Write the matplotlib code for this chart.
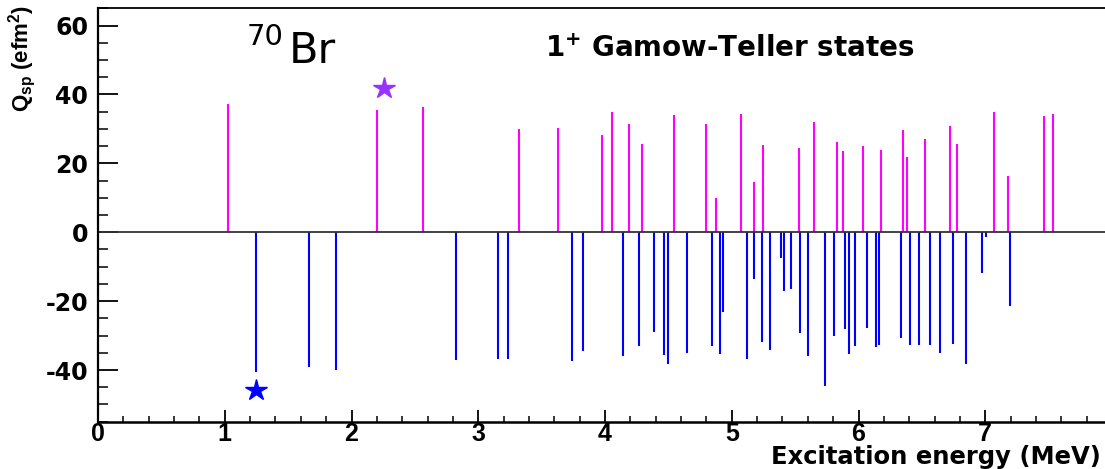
import matplotlib.pyplot as plt
from matplotlib.ticker import MultipleLocator

# positive Q_sp states (MeV, efm^2)
pos_energy = [1.028, 2.200, 2.565, 3.320, 3.631, 3.980, 4.057, 4.191, 4.291, 4.546,
              4.793, 4.878, 5.070, 5.178, 5.246, 5.527, 5.651, 5.827, 5.875, 6.038,
              6.178, 6.354, 6.385, 6.525, 6.719, 6.777, 7.066, 7.177, 7.464, 7.535]
pos_q = [37.2, 35.4, 36.4, 30.1, 30.3, 28.2, 34.8, 31.3, 25.7, 34.0,
         31.4, 9.9, 34.3, 14.6, 25.3, 24.5, 32.0, 26.2, 23.7, 25.0,
         23.9, 29.7, 21.7, 27.2, 30.7, 25.7, 34.9, 16.2, 33.7, 34.4]

# negative Q_sp states
neg_energy = [1.245, 1.663, 1.878, 2.823, 3.152, 3.236, 3.739, 3.826, 4.141, 4.265,
              4.388, 4.462, 4.496, 4.643, 4.841, 4.907, 4.930, 5.120, 5.178, 5.238,
              5.304, 5.391, 5.412, 5.470, 5.541, 5.598, 5.738, 5.806, 5.893, 5.927,
              5.975, 6.064, 6.140, 6.162, 6.338, 6.409, 6.480, 6.564, 6.643, 6.748,
              6.848, 6.977, 7.009, 7.196]
neg_q = [-40.7, -39.2, -40.1, -37.2, -36.9, -36.7, -37.3, -34.6, -36.0, -33.1,
         -29.1, -35.5, -38.3, -35.1, -32.9, -35.4, -23.2, -36.8, -13.7, -32.0,
         -34.3, -7.6, -17.1, -16.6, -29.3, -35.9, -44.6, -30.1, -28.2, -35.3,
         -32.9, -27.8, -33.2, -32.6, -30.8, -32.8, -32.6, -32.8, -35.1, -32.5,
         -38.3, -11.7, -1.3, -21.5]

# experimental points (stars)
exp_energy = [2.257, 1.245]
exp_q = [42.0, -45.9]
exp_colors = ['#9933ff', '#0000ff']

x_ticks = [0, 1, 2, 3, 4, 5, 6, 7]
y_ticks = [-40, -20, 0, 20, 40, 60]

plt.rcParams['font.family'] = ['DejaVu Sans']
plt.rcParams['axes.unicode_minus'] = False
plt.rcParams['mathtext.default'] = 'bf'

W, H = 1105, 469
fig = plt.figure(figsize=(W / 100, H / 100), dpi=100)
ax = fig.add_axes([98 / W, 47.3 / H, 1014 / W, 413.4 / H])

ax.vlines(pos_energy, 0, pos_q, color='#ff00ff', lw=1.5)
ax.vlines(neg_energy, 0, neg_q, color='#0000ff', lw=1.5)
ax.axhline(0, color='#333333', lw=1.3)
for e, q, c in zip(exp_energy, exp_q, exp_colors):
    ax.plot(e, q, marker='*', color=c, ms=16, mec=c, ls='none')

ax.set_xlim(0, 8)
ax.set_ylim(-55, 65)
ax.set_xticks(x_ticks)
ax.set_xticklabels([str(t) for t in x_ticks], fontsize=18, fontweight='bold',
                   family='Liberation Sans')
ax.set_yticks(y_ticks)
ax.set_yticklabels([str(t) for t in y_ticks], fontsize=17, fontweight='bold')
ax.xaxis.set_minor_locator(MultipleLocator(0.2))
ax.yaxis.set_minor_locator(MultipleLocator(5))
ax.tick_params(axis='x', which='major', direction='in', length=9, width=1.3, pad=0, top=False)
ax.tick_params(axis='x', which='minor', direction='in', length=4.5, width=1.1, top=False)
ax.tick_params(axis='y', which='major', direction='in', length=14.5, width=1.3, pad=7, right=False)
ax.tick_params(axis='y', which='minor', direction='in', length=7.2, width=1.1, right=False)

ax.spines['right'].set_visible(False)
ax.spines['left'].set_linewidth(1.6)
ax.spines['bottom'].set_linewidth(1.8)
ax.spines['top'].set_linewidth(1.3)

# axis titles, ROOT style (right / top aligned)
fig.text(1101 / W, 1 - 464 / H, 'Excitation energy (MeV)', fontsize=17.5,
         fontweight='bold', ha='right', va='baseline')
fig.text(22 / W, 1 - 5 / H, r'Q$_{\mathregular{sp}}$ (efm$^{\mathregular{2}}$)',
         fontsize=16, fontweight='bold', family='Liberation Sans',
         rotation=90, ha='center', va='top')

fig.text(247 / W, 1 - 45 / H, '70', fontsize=21, ha='left', va='baseline')
fig.text(289 / W, 1 - 63 / H, 'Br', fontsize=31, ha='left', va='baseline')
fig.text(545 / W, 1 - 57 / H, r'1$^{+}$ Gamow-Teller states', fontsize=20,
         fontweight='bold', ha='left', va='baseline')

fig.savefig('out.png', dpi=100)
